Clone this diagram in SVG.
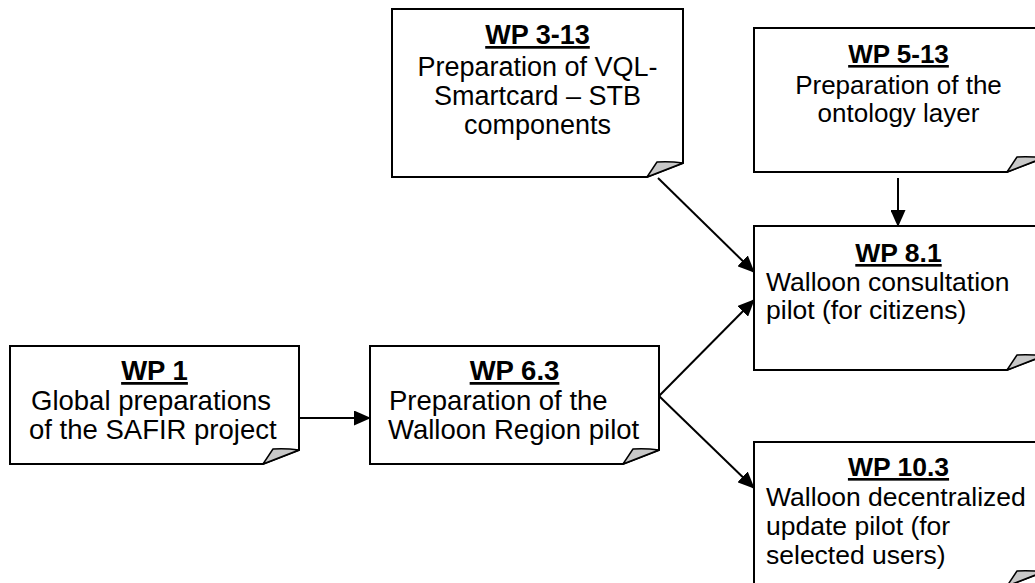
<svg xmlns="http://www.w3.org/2000/svg" width="1035" height="583" viewBox="0 0 1035 583">
<style>
.box{fill:#fff;stroke:#000;stroke-width:2}
.curl{fill:#c8c8c8;stroke:#000;stroke-width:1.5;stroke-linejoin:round}
.t{font-family:"Liberation Sans",Arial,sans-serif;fill:#000}
.h{font-weight:bold;text-decoration:underline;text-anchor:middle}
.c{text-anchor:middle}
.conn{stroke:#000;stroke-width:2;fill:none}
</style>
<defs>
<marker id="arr" markerWidth="17" markerHeight="15" refX="16" refY="7.5" orient="auto" markerUnits="userSpaceOnUse">
<path d="M0,0 L17,7.5 L0,15 Z" fill="#000"/>
</marker>
</defs>
<rect width="1035" height="583" fill="#fff"/>
<g id="connectors">
<line class="conn" x1="299" y1="418" x2="370" y2="418" marker-end="url(#arr)"/>
<line class="conn" x1="658" y1="178" x2="754" y2="272" marker-end="url(#arr)"/>
<line class="conn" x1="898" y1="178" x2="898" y2="226" marker-end="url(#arr)"/>
<line class="conn" x1="659" y1="396" x2="754" y2="300" marker-end="url(#arr)"/>
<line class="conn" x1="659" y1="396" x2="754" y2="488" marker-end="url(#arr)"/>
</g>
<g id="wp1">
<path class="box" d="M10,346 H299 V450 L263,464 H10 Z"/>
<path class="curl" d="M263,464 L273,449 Q285,448 299,450 Z"/>
<g class="t" font-size="27.5">
<text class="h" x="154.5" y="380">WP 1</text>
<text x="31" y="410">Global preparations</text>
<text x="29" y="439">of the SAFIR project</text>
</g>
</g>
<g id="wp63">
<path class="box" d="M370,346 H659 V450 L623,464 H370 Z"/>
<path class="curl" d="M623,464 L633,449 Q645,448 659,450 Z"/>
<g class="t" font-size="27.5">
<text class="h" x="514.5" y="380">WP 6.3</text>
<text x="389" y="410">Preparation of the</text>
<text x="388" y="439">Walloon Region pilot</text>
</g>
</g>
<g id="wp313">
<path class="box" d="M392,9 H683 V163 L647,177 H392 Z"/>
<path class="curl" d="M647,177 L657,162 Q669,161 683,163 Z"/>
<g class="t c" font-size="27">
<text class="h" x="537.5" y="44">WP 3-13</text>
<text x="537.5" y="76">Preparation of VQL-</text>
<text x="537.5" y="105">Smartcard – STB</text>
<text x="537.5" y="134">components</text>
</g>
</g>
<g id="wp513">
<path class="box" d="M754,28 H1043 V158 L1007,172 H754 Z"/>
<path class="curl" d="M1007,172 L1017,157 Q1029,156 1043,158 Z"/>
<g class="t c" font-size="26">
<text class="h" x="898.5" y="63">WP 5-13</text>
<text x="898.5" y="94">Preparation of the</text>
<text x="898.5" y="122">ontology layer</text>
</g>
</g>
<g id="wp81">
<path class="box" d="M754,226 H1043 V356 L1007,370 H754 Z"/>
<path class="curl" d="M1007,370 L1017,355 Q1029,354 1043,356 Z"/>
<g class="t" font-size="26.5">
<text class="h" x="898.5" y="262">WP 8.1</text>
<text x="766" y="291">Walloon consultation</text>
<text x="766" y="319">pilot (for citizens)</text>
</g>
</g>
<g id="wp103">
<path class="box" d="M754,442 H1043 V572 L1007,586 H754 Z"/>
<path class="curl" d="M1007,586 L1017,571 Q1029,570 1043,572 Z"/>
<g class="t" font-size="26.5">
<text class="h" x="898.5" y="476">WP 10.3</text>
<text x="766" y="506">Walloon decentralized</text>
<text x="766" y="535">update pilot (for</text>
<text x="766" y="564">selected users)</text>
</g>
</g>
</svg>
